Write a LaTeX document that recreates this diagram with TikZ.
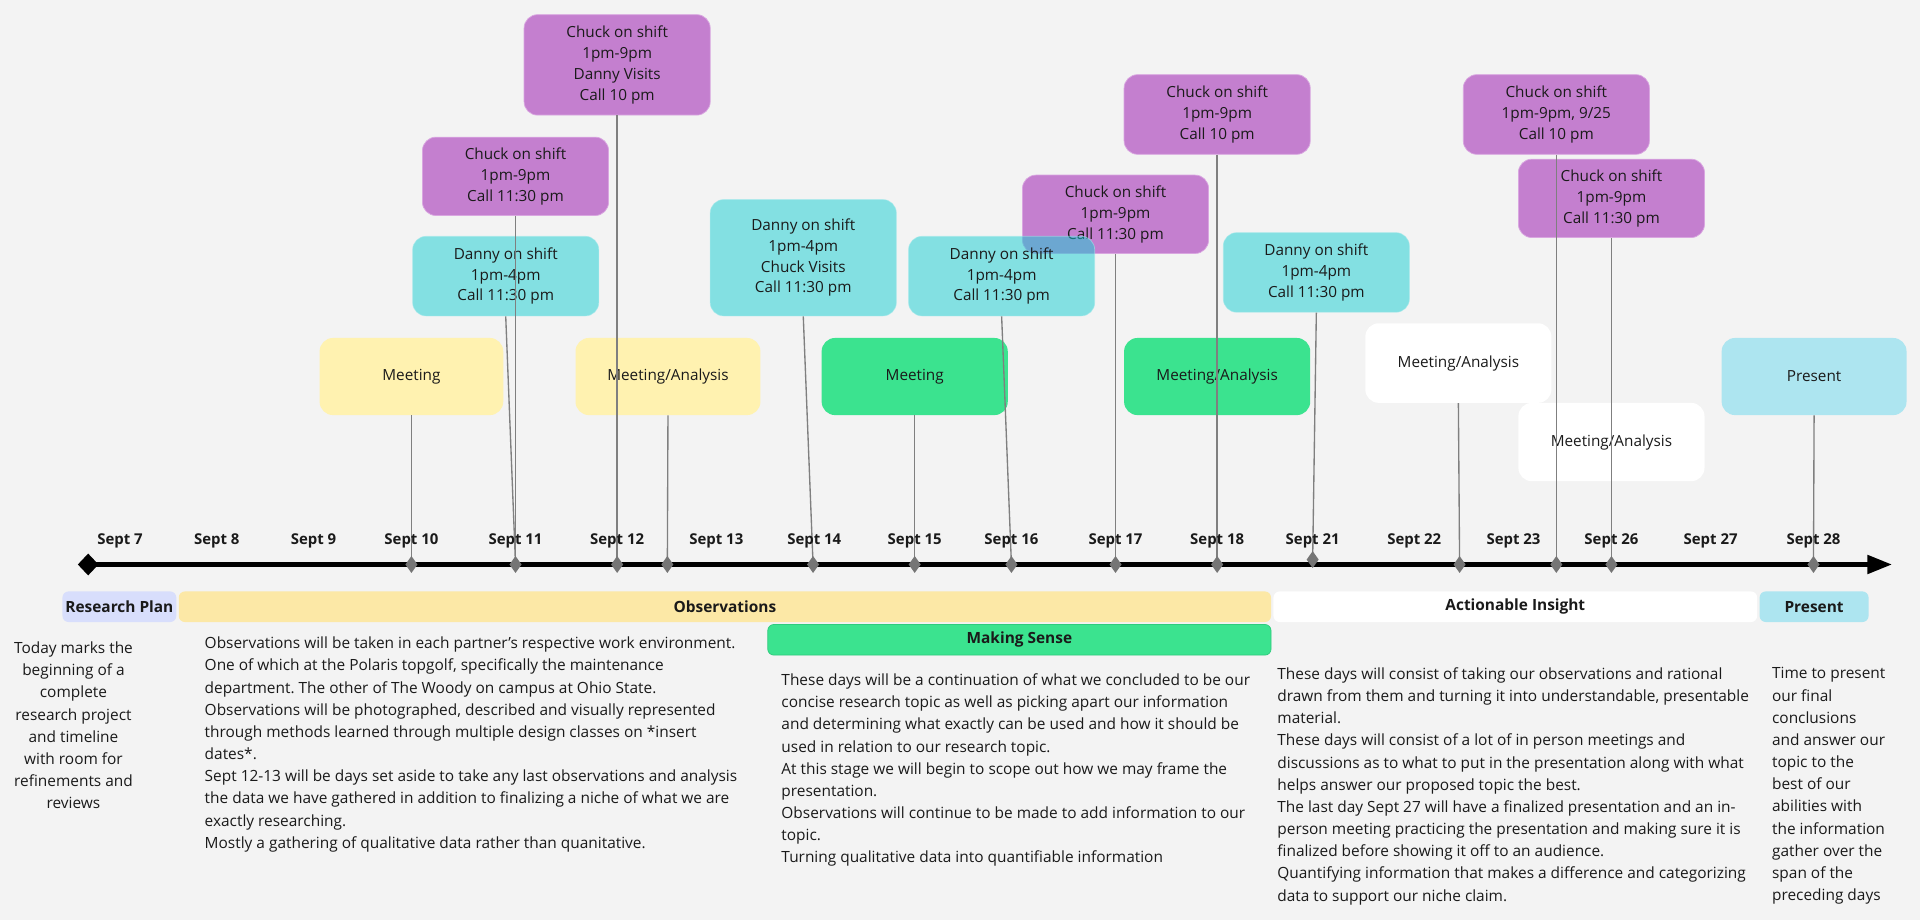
\documentclass[tikz,border=0pt]{standalone}
\usepackage{fontspec}
\setmainfont{Open Sans}
\usetikzlibrary{arrows.meta,shapes.geometric}
\frenchspacing
\definecolor{bg}{HTML}{F3F3F3}
\definecolor{txt}{HTML}{1A1A1A}
\definecolor{ylw}{HTML}{FFF2B0}
\definecolor{obsbar}{HTML}{FCE8A6}
\definecolor{purp}{HTML}{C47FCF}
\definecolor{purpedge}{HTML}{D9A6E0}
\definecolor{cyanb}{HTML}{15CFD3}
\definecolor{cyanedge}{HTML}{9FE8EA}
\definecolor{grn}{HTML}{3BE38F}
\definecolor{grnedge}{HTML}{2FCB7D}
\definecolor{lblue}{HTML}{ADE5F0}
\definecolor{lav}{HTML}{D8DEFC}
\definecolor{conn}{HTML}{7F7F7F}
\definecolor{mark}{HTML}{757575}
\newcommand\boxfont{\fontsize{12.5}{17}\selectfont}
\newcommand\bodyfont{\fontsize{12.6}{18.1}\selectfont}
\newcommand\lblfont{\bfseries\fontsize{12.6}{15}\selectfont}
\newcommand\datefont{\bfseries\fontsize{12.2}{14}\selectfont}
\tikzset{
  evbox/.style={rounded corners=11pt, inner sep=0pt, align=center, font=\boxfont,
    text=txt, minimum width=152pt, minimum height=65pt},
  purpbox/.style={evbox, fill=purp, draw=purpedge, line width=0.6pt},
  cyanbox/.style={evbox, fill=cyanb, fill opacity=0.5, text opacity=1, draw=cyanedge, draw opacity=0.6, line width=0.6pt},
  ylwbox/.style={evbox, fill=ylw},
  grnbox/.style={evbox, fill=grn},
  whtbox/.style={evbox, fill=white},
  presbox/.style={evbox, fill=lblue},
  phasebar/.style={rounded corners=5pt, inner sep=0pt, minimum height=25pt, font=\lblfont, text=txt},
  bodytext/.style={inner sep=0pt, font=\bodyfont, text=txt},
  connline/.style={draw=conn, line width=1.1pt},
  mk/.style={diamond, fill=mark, inner sep=0pt, minimum width=10pt, minimum height=14pt},
  datelbl/.style={font=\datefont, text=txt, inner sep=0pt},
}
\begin{document}
\begin{tikzpicture}[x=1pt,y=-1pt]
\fill[bg] (0,0) rectangle (1568,751);
\useasboundingbox (0,0) rectangle (1568,751);

% event boxes
\node[ylwbox, minimum width=150pt, minimum height=63pt] (meet1) at (336,307.5) {Meeting};
\node[purpbox, minimum height=64pt] (chuA) at (421,144) {Chuck on shift\\1pm-9pm\\Call 11:30 pm};
\node[cyanbox] (danA) at (413,225.5) {Danny on shift\\1pm-4pm\\Call 11:30 pm};
\node[purpbox, minimum height=82pt] (chuB) at (504,53) {Chuck on shift\\1pm-9pm\\Danny Visits\\Call 10 pm};
\node[ylwbox, minimum width=151pt, minimum height=63pt] (ma1) at (545.5,307.5) {Meeting/Analysis};
\node[cyanbox, minimum height=95pt] (danB) at (656,210.5) {Danny on shift\\1pm-4pm\\Chuck Visits\\Call 11:30 pm};
\node[grnbox, minimum height=63pt] (meet2) at (747,307.5) {Meeting};
\node[purpbox, minimum height=64pt] (chuC) at (911,175) {Chuck on shift\\1pm-9pm\\Call 11:30 pm};
\node[cyanbox] (danC) at (818,225.5) {Danny on shift\\1pm-4pm\\Call 11:30 pm};
\node[purpbox] (chuD) at (994,93.5) {Chuck on shift\\1pm-9pm\\Call 10 pm};
\node[grnbox, minimum height=63pt] (ma2) at (994,307.5) {Meeting/Analysis};
\node[cyanbox] (danD) at (1075,222.5) {Danny on shift\\1pm-4pm\\Call 11:30 pm};
\node[whtbox] (ma3) at (1191,296.5) {Meeting/Analysis};
\node[purpbox] (chuE) at (1271,93.5) {Chuck on shift\\1pm-9pm, 9/25\\Call 10 pm};
\node[purpbox, minimum height=64pt] (chuF) at (1316,162) {Chuck on shift\\1pm-9pm\\Call 11:30 pm};
\node[whtbox, minimum height=64pt] (ma4) at (1316,361) {Meeting/Analysis};
\node[presbox, minimum width=151pt, minimum height=63pt] (pres) at (1481.5,307.5) {Present};

% timeline
\node[diamond, fill=black, inner sep=0pt, minimum width=17pt, minimum height=18pt] (tstart) at (72,461) {};
\coordinate (tend) at (1545,461);
\draw[line width=3.3pt, -{Triangle[length=20pt,width=15pt]}] (tstart.center) -- (tend);

% markers (coordinates)
\coordinate (p1) at (336,461);
\coordinate (p2) at (421,461);
\coordinate (p3) at (504,461);
\coordinate (p4) at (545,461);
\coordinate (p5) at (664,461);
\coordinate (p6) at (747,461);
\coordinate (p7) at (826,461);
\coordinate (p8) at (911,461);
\coordinate (p9) at (994,461);
\coordinate (p10) at (1072,457);
\coordinate (p11) at (1192,461);
\coordinate (p12) at (1271,461);
\coordinate (p13) at (1316,461);
\coordinate (p14) at (1481,461);

% connectors
\draw[connline] (meet1.south) -- (p1);
\draw[connline] (danA.south) -- (p2);
\draw[connline] (chuA.south) -- (p2);
\draw[connline] (chuB.south) -- (p3);
\draw[connline] (ma1.south) -- (p4);
\draw[connline] (danB.south) -- (p5);
\draw[connline] (meet2.south) -- (p6);
\draw[connline] (danC.south) -- (p7);
\draw[connline] (chuC.south) -- (p8);
\draw[connline] (chuD.south) -- (p9);
\draw[connline] (danD.south) -- (p10);
\draw[connline] (ma3.south) -- (p11);
\draw[connline] (chuE.south) -- (p12);
\draw[connline] (chuF.south) -- (p13);
\draw[connline] (pres.south) -- (p14);

\foreach \i in {1,...,14} \node[mk] (mk\i) at (p\i) {};

% dates
\node[datelbl] (d7) at (98,442) {Sept 7};
\node[datelbl] (d8) at (177,442) {Sept 8};
\node[datelbl] (d9) at (256,442) {Sept 9};
\node[datelbl] (d10) at (336,442) {Sept 10};
\node[datelbl] (d11) at (421,442) {Sept 11};
\node[datelbl] (d12) at (504,442) {Sept 12};
\node[datelbl] (d13) at (585,442) {Sept 13};
\node[datelbl] (d14) at (665,442) {Sept 14};
\node[datelbl] (d15) at (747,442) {Sept 15};
\node[datelbl] (d16) at (826,442) {Sept 16};
\node[datelbl] (d17) at (911,442) {Sept 17};
\node[datelbl] (d18) at (994,442) {Sept 18};
\node[datelbl] (d21) at (1072,442) {Sept 21};
\node[datelbl] (d22) at (1155,442) {Sept 22};
\node[datelbl] (d23) at (1236,442) {Sept 23};
\node[datelbl] (d26) at (1316,442) {Sept 26};
\node[datelbl] (d27) at (1397,442) {Sept 27};
\node[datelbl] (d28) at (1481,442) {Sept 28};

% phase bars
\node[phasebar, fill=lav, minimum width=93pt] (rp) at (97.5,495.5) {Research Plan};
\node[phasebar, fill=obsbar, minimum width=892pt] (obs) at (592,495.5) {Observations};
\node[phasebar, fill=white, minimum width=395pt] (act) at (1237.5,495.5) {Actionable Insight};
\node[phasebar, fill=lblue, minimum width=89pt] (prsbar) at (1481.5,495.5) {Present};
\node[phasebar, fill=grn, draw=grnedge, line width=0.6pt, minimum width=411pt] (ms) at (832.5,522.5) {Making Sense};

% body texts
\node[bodytext, align=center, anchor=north] (rptext) at (60,524) {Today marks the\\beginning of a\\complete\\research project\\and timeline\\with room for\\refinements and\\reviews};
\node[bodytext, align=left, anchor=north west] (obstext) at (167,520) {Observations will be taken in each partner's respective work environment.\\One of which at the Polaris topgolf, specifically the maintenance\\department. The other of The Woody on campus at Ohio State.\\Observations will be photographed, described and visually represented\\through methods learned through multiple design classes on *insert\\dates*.\\Sept 12-13 will be days set aside to take any last observations and analysis\\the data we have gathered in addition to finalizing a niche of what we are\\exactly researching.\\Mostly a gathering of qualitative data rather than quanitative.};
\node[bodytext, align=left, anchor=north west] (mstext) at (638,550) {These days will be a continuation of what we concluded to be our\\concise research topic as well as picking apart our information\\and determining what exactly can be used and how it should be\\used in relation to our research topic.\\At this stage we will begin to scope out how we may frame the\\presentation.\\Observations will continue to be made to add information to our\\topic.\\Turning qualitative data into quantifiable information};
\node[bodytext, align=left, anchor=north west] (acttext) at (1043,545) {These days will consist of taking our observations and rational\\drawn from them and turning it into understandable, presentable\\material.\\These days will consist of a lot of in person meetings and\\discussions as to what to put in the presentation along with what\\helps answer our proposed topic the best.\\The last day Sept 27 will have a finalized presentation and an in-\\person meeting practicing the presentation and making sure it is\\finalized before showing it off to an audience.\\Quantifying information that makes a difference and categorizing\\data to support our niche claim.};
\node[bodytext, align=left, anchor=north west] (prstext) at (1447,545) {Time to present\\our final\\conclusions\\and answer our\\topic to the\\best of our\\abilities with\\the information\\gather over the\\span of the\\preceding days};
\end{tikzpicture}
\end{document}
